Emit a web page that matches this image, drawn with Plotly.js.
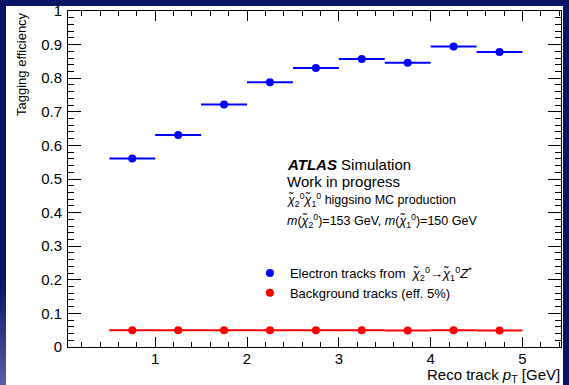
<!DOCTYPE html>
<html>
<head>
<meta charset="utf-8">
<script src="https://cdn.plot.ly/plotly-3.0.1.min.js"></script>
<style>
  html, body { margin: 0; padding: 0; width: 569px; height: 385px; overflow: hidden; background: #0b1566; }
  #strip { position: absolute; left: 0; top: 285px; width: 6px; height: 100px;
           background: linear-gradient(to bottom, #0b1566, #5c5ca8); }
  #sheet { position: absolute; left: 6px; top: 6px; width: 557px; height: 379px; background: #ffffff; }
  #chart { position: absolute; left: 0; top: 0; width: 569px; height: 385px; }
</style>
</head>
<body>
<div id="strip"></div>
<div id="sheet"></div>
<div id="chart"></div>
<script>
// ---- data ----
var binCenters   = [0.75, 1.25, 1.75, 2.25, 2.75, 3.25, 3.75, 4.25, 4.75];
var binHalfWidth = [0.25, 0.25, 0.25, 0.25, 0.25, 0.25, 0.25, 0.25, 0.25];
var electronEff  = [0.561, 0.631, 0.722, 0.788, 0.830, 0.857, 0.846, 0.894, 0.878];
var electronErr  = [0.005, 0.005, 0.005, 0.005, 0.005, 0.005, 0.006, 0.006, 0.008];
var bkgEff       = [0.050, 0.050, 0.050, 0.050, 0.050, 0.050, 0.049, 0.050, 0.049];
var bkgErr       = [0.001, 0.001, 0.001, 0.001, 0.001, 0.001, 0.001, 0.001, 0.001];
var seriesNames  = ['Electron tracks from  <i>χ̃</i><sub>2</sub><sup>0</sup>→<i>χ̃</i><sub>1</sub><sup>0</sup><i>Z</i><sup>*</sup>',
                    'Background tracks (eff. 5%)'];

var FONT = 'Liberation Sans, Arial, Helvetica, sans-serif';

function series(name, y, yerr, color) {
  return {
    type: 'scatter', mode: 'markers', name: name,
    x: binCenters, y: y,
    marker: { color: color, size: 8, symbol: 'circle' },
    error_x: { type: 'data', array: binHalfWidth, visible: true, width: 0, thickness: 2, color: color },
    error_y: { type: 'data', array: yerr, visible: true, width: 0, thickness: 2, color: color },
    hoverinfo: 'x+y'
  };
}

var traces = [
  series(seriesNames[0], electronEff, electronErr, '#0000ff'),
  series(seriesNames[1], bkgEff, bkgErr, '#ff0000')
];

var axisCommon = {
  showgrid: false, zeroline: false, showline: true, linecolor: '#000', linewidth: 1,
  mirror: 'allticks', ticks: 'inside', tickcolor: '#000', tickwidth: 1,
  tickfont: { family: FONT, size: 15, color: '#000' }
};

var layout = {
  width: 569, height: 385,
  margin: { l: 68, r: 8, t: 11, b: 38 },
  paper_bgcolor: 'rgba(0,0,0,0)', plot_bgcolor: '#ffffff',
  font: { family: FONT, color: '#000' },
  showlegend: true,
  legend: {
    x: 0.369, y: 0.265, xanchor: 'left', yanchor: 'top',
    bgcolor: 'rgba(0,0,0,0)', borderwidth: 0,
    font: { family: FONT, size: 13, color: '#000' },
    traceorder: 'normal', tracegroupgap: 0
  },
  xaxis: Object.assign({}, axisCommon, {
    range: [0.05, 5.42], dtick: 1, tick0: 0, ticklen: 10,
    ticklabelstandoff: -2,
    minor: { dtick: 0.2, tick0: 0, ticks: 'inside', ticklen: 5, tickcolor: '#000', tickwidth: 1, showgrid: false }
  }),
  yaxis: Object.assign({}, axisCommon, {
    range: [0, 1], dtick: 0.1, tick0: 0, ticklen: 13,
    ticklabelstandoff: 2,
    minor: { dtick: 0.02, tick0: 0, ticks: 'inside', ticklen: 6, tickcolor: '#000', tickwidth: 1, showgrid: false }
  }),
  annotations: [
    { xref: 'paper', yref: 'paper', x: -0.0933, y: 1.003, xanchor: 'center', yanchor: 'top',
      textangle: -90, showarrow: false, text: 'Tagging efficiency',
      font: { family: FONT, size: 13, color: '#000' } },
    { xref: 'paper', yref: 'paper', x: 1.003, y: -0.050, xanchor: 'right', yanchor: 'top',
      showarrow: false, text: 'Reco track <i>p</i><sub>T</sub> [GeV]',
      font: { family: FONT, size: 15, color: '#000' } },
    { xref: 'paper', yref: 'paper', x: 0.440, y: 0.542, xanchor: 'left', yanchor: 'middle',
      showarrow: false, text: '<b><i>ATLAS</i></b> Simulation',
      font: { family: FONT, size: 15, color: '#000' } },
    { xref: 'paper', yref: 'paper', x: 0.440, y: 0.494, xanchor: 'left', yanchor: 'middle',
      showarrow: false, text: 'Work in progress',
      font: { family: FONT, size: 15, color: '#000' } },
    { xref: 'paper', yref: 'paper', x: 0.440, y: 0.4375, xanchor: 'left', yanchor: 'middle',
      showarrow: false, text: '<i>χ̃</i><sub>2</sub><sup>0</sup><i>χ̃</i><sub>1</sub><sup>0</sup> higgsino MC production',
      font: { family: FONT, size: 12.5, color: '#000' } },
    { xref: 'paper', yref: 'paper', x: 0.440, y: 0.375, xanchor: 'left', yanchor: 'middle',
      showarrow: false, text: '<i>m</i>(<i>χ̃</i><sub>2</sub><sup>0</sup>)=153 GeV, <i>m</i>(<i>χ̃</i><sub>1</sub><sup>0</sup>)=150 GeV',
      font: { family: FONT, size: 12.5, color: '#000' } }
  ]
};

Plotly.newPlot('chart', traces, layout, { displayModeBar: false, staticPlot: true });
</script>
</body>
</html>
